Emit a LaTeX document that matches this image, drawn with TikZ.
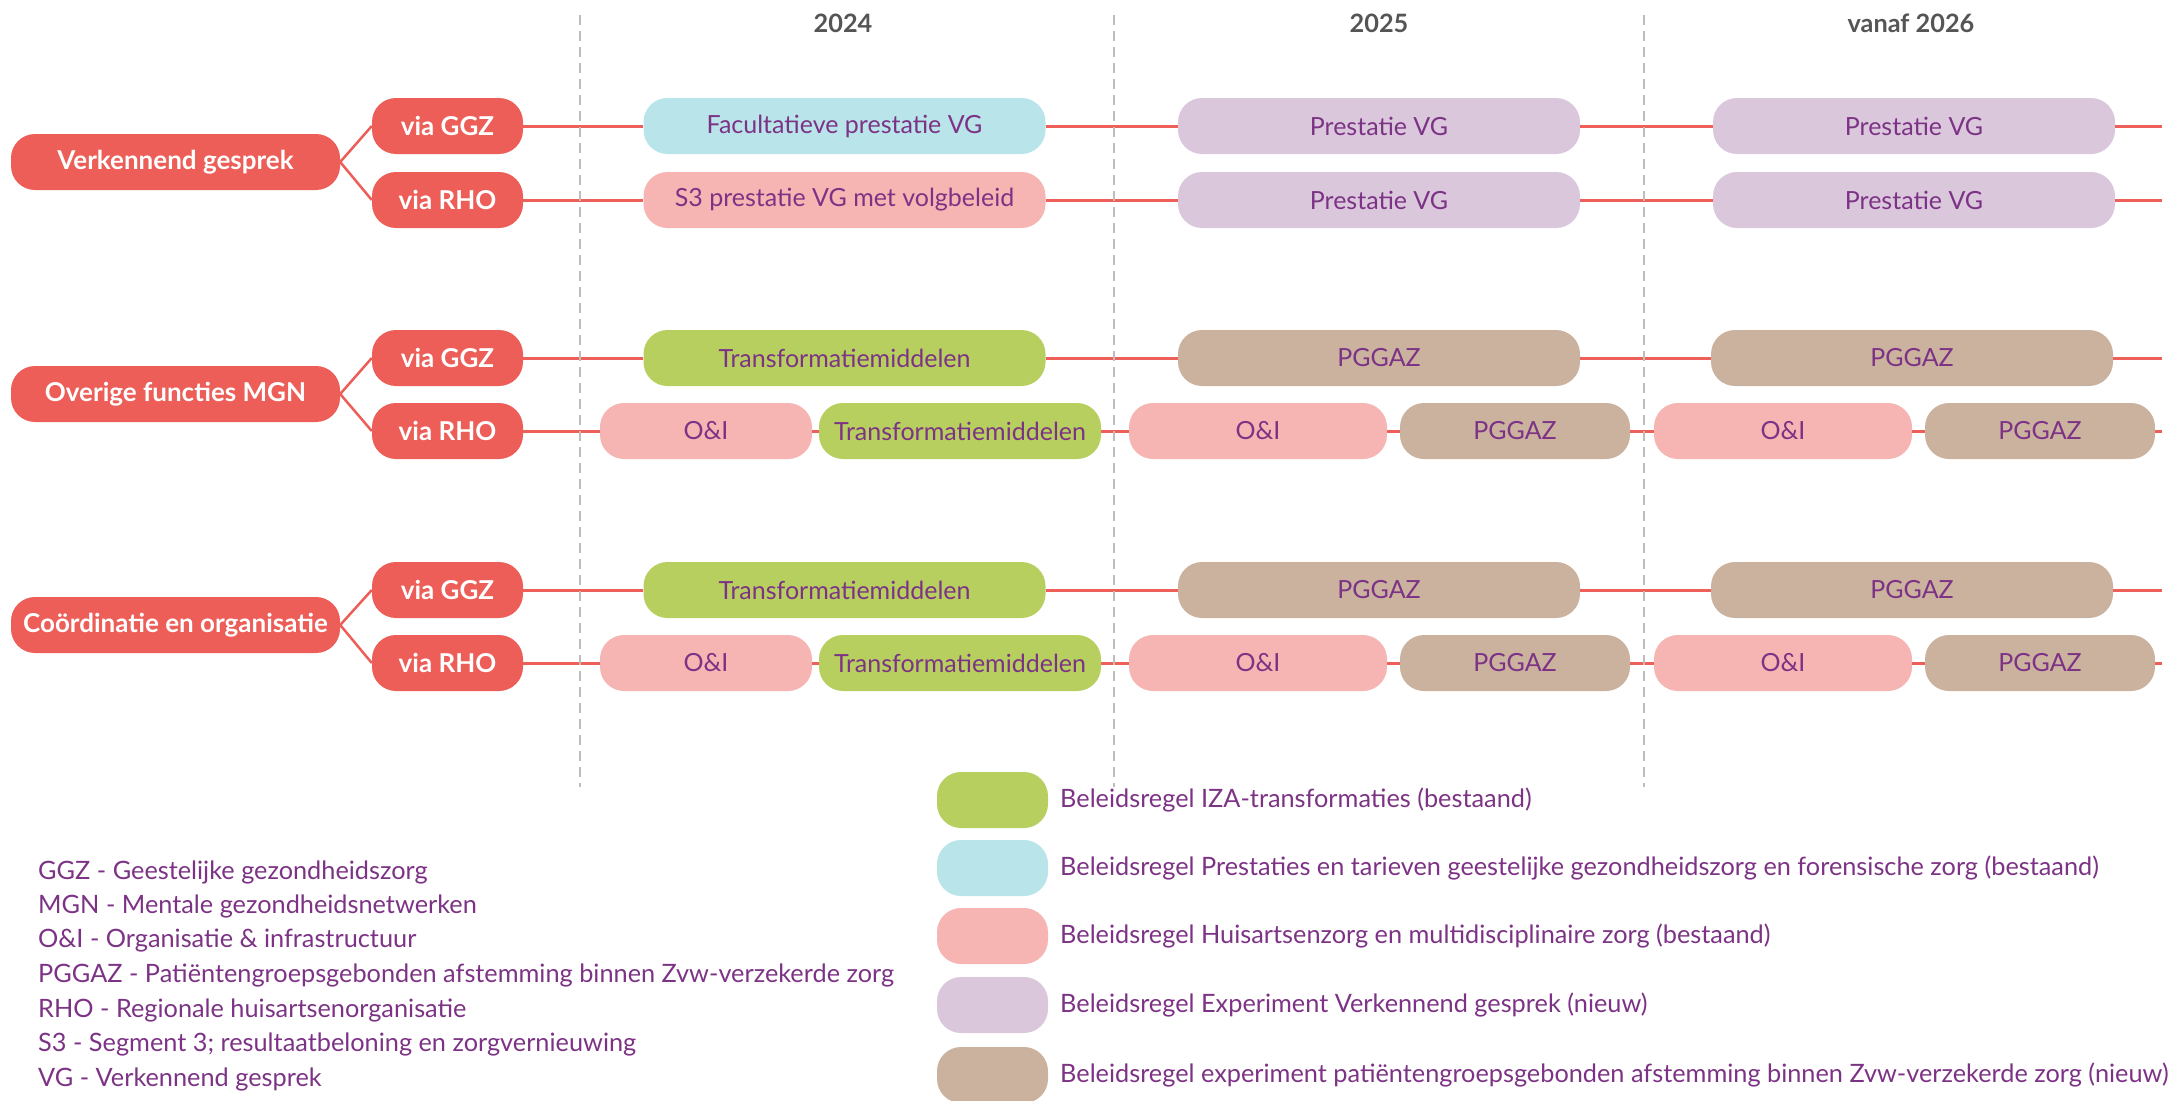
\documentclass[tikz,border=0pt]{standalone}
\usepackage{fontspec}
\setmainfont{Lato}
\definecolor{mred}{HTML}{EC5E57}
\definecolor{lred}{HTML}{EE5F5A}
\definecolor{cgreen}{HTML}{B7CF5F}
\definecolor{ccyan}{HTML}{B8E4EA}
\definecolor{cpink}{HTML}{F6B4B3}
\definecolor{clav}{HTML}{DAC7DC}
\definecolor{ctan}{HTML}{CBB29F}
\definecolor{cpurp}{HTML}{7D3385}
\definecolor{cgray}{HTML}{555555}
\definecolor{cdash}{HTML}{BDBDBD}
\newcommand{\myfs}{\fontsize{25}{29}\selectfont}
\newcommand{\myfsl}{\fontsize{25.3}{29}\selectfont}
\newcommand{\myfsb}{\fontsize{26}{30}\selectfont\bfseries}
\newcommand{\myfsy}{\fontsize{25.3}{30}\selectfont\bfseries}
\begin{document}
\begin{tikzpicture}[x=1pt,y=-1pt,
  pill/.style={rectangle,rounded corners=24pt,minimum height=56pt,inner sep=0pt,font=\myfs,text=cpurp},
  mainbox/.style={pill,fill=mred,minimum width=329pt,text=white,font=\myfsb},
  subbox/.style={pill,fill=mred,minimum width=151pt,text=white,font=\myfsb},
  wide/.style={pill,minimum width=402pt},
  oi/.style={pill,fill=cpink,minimum width=258pt},
  pg/.style={pill,fill=ctan,minimum width=230pt},
  tline/.style={draw=lred,line width=3pt},
  branch/.style={draw=mred,line width=2.5pt},
  gridline/.style={draw=cdash,line width=2pt,dash pattern=on 10pt off 6pt},
  year/.style={font=\myfsy,text=cgray},
  abbr/.style={anchor=west,font=\myfsl,text=cpurp,inner sep=0pt},
  legtext/.style={anchor=west,font=\myfsl,text=cpurp,inner sep=0pt},
  swatch/.style={rectangle,rounded corners=24pt,minimum width=111pt,minimum height=56pt,inner sep=0pt}
]
\useasboundingbox (0,0) rectangle (2175,1100);

% year labels
\node[year] (y1) at (843,23) {2024};
\node[year] (y2) at (1379,23) {2025};
\node[year] (y3) at (1911,23) {vanaf 2026};

% main and sub nodes
\node[mainbox] (vg) at (175.5,162) {Verkennend gesprek};
\node[subbox] (vgg) at (447.5,126) {via GGZ};
\node[subbox] (vgr) at (447.5,200) {via RHO};
\node[mainbox] (mgn) at (175.5,394) {Overige functies MGN};
\node[subbox] (mgng) at (447.5,358) {via GGZ};
\node[subbox] (mgnr) at (447.5,431) {via RHO};
\node[mainbox] (co) at (175.5,625) {Coördinatie en organisatie};
\node[subbox] (cog) at (447.5,590) {via GGZ};
\node[subbox] (cor) at (447.5,663) {via RHO};

\draw[branch] (vg.east) -- (vgg.west);
\draw[branch] (vg.east) -- (vgr.west);
\draw[branch] (mgn.east) -- (mgng.west);
\draw[branch] (mgn.east) -- (mgnr.west);
\draw[branch] (co.east) -- (cog.west);
\draw[branch] (co.east) -- (cor.west);

% row 1: VG via GGZ
\node[wide,fill=ccyan] (a1) at (844.5,126) {Facultatieve prestatie VG};
\node[wide,fill=clav] (a2) at (1379,126) {Prestatie VG};
\node[wide,fill=clav] (a3) at (1914,126) {Prestatie VG};
\coordinate (ae) at (2162,126);
\draw[tline] (vgg.east) -- (a1.west) (a1.east) -- (a2.west) (a2.east) -- (a3.west) (a3.east) -- (ae);

% row 2: VG via RHO
\node[wide,fill=cpink] (b1) at (844.5,200) {S3 prestatie VG met volgbeleid};
\node[wide,fill=clav] (b2) at (1379,200) {Prestatie VG};
\node[wide,fill=clav] (b3) at (1914,200) {Prestatie VG};
\coordinate (be) at (2162,200);
\draw[tline] (vgr.east) -- (b1.west) (b1.east) -- (b2.west) (b2.east) -- (b3.west) (b3.east) -- (be);

% row 3: MGN via GGZ
\node[wide,fill=cgreen] (c1) at (844.5,358) {Transformatiemiddelen};
\node[wide,fill=ctan] (c2) at (1379,358) {PGGAZ};
\node[wide,fill=ctan] (c3) at (1912,358) {PGGAZ};
\coordinate (ce) at (2162,358);
\draw[tline] (mgng.east) -- (c1.west) (c1.east) -- (c2.west) (c2.east) -- (c3.west) (c3.east) -- (ce);

% row 4: MGN via RHO
\node[oi,minimum width=212pt] (d1) at (706,431) {O\&I};
\node[pill,fill=cgreen,minimum width=282pt] (d2) at (960,431) {Transformatiemiddelen};
\node[oi] (d3) at (1258,431) {O\&I};
\node[pg] (d4) at (1515,431) {PGGAZ};
\node[oi] (d5) at (1783,431) {O\&I};
\node[pg] (d6) at (2040,431) {PGGAZ};
\coordinate (de) at (2162,431);
\draw[tline] (mgnr.east) -- (d1.west) (d1.east) -- (d2.west) (d2.east) -- (d3.west) (d3.east) -- (d4.west) (d4.east) -- (d5.west) (d5.east) -- (d6.west) (d6.east) -- (de);

% row 5: CO via GGZ
\node[wide,fill=cgreen] (e1) at (844.5,590) {Transformatiemiddelen};
\node[wide,fill=ctan] (e2) at (1379,590) {PGGAZ};
\node[wide,fill=ctan] (e3) at (1912,590) {PGGAZ};
\coordinate (ee) at (2162,590);
\draw[tline] (cog.east) -- (e1.west) (e1.east) -- (e2.west) (e2.east) -- (e3.west) (e3.east) -- (ee);

% row 6: CO via RHO
\node[oi,minimum width=212pt] (f1) at (706,663) {O\&I};
\node[pill,fill=cgreen,minimum width=282pt] (f2) at (960,663) {Transformatiemiddelen};
\node[oi] (f3) at (1258,663) {O\&I};
\node[pg] (f4) at (1515,663) {PGGAZ};
\node[oi] (f5) at (1783,663) {O\&I};
\node[pg] (f6) at (2040,663) {PGGAZ};
\coordinate (fe) at (2162,663);
\draw[tline] (cor.east) -- (f1.west) (f1.east) -- (f2.west) (f2.east) -- (f3.west) (f3.east) -- (f4.west) (f4.east) -- (f5.west) (f5.east) -- (f6.west) (f6.east) -- (fe);

% dashed year separators
\draw[gridline] (580,15) -- (580,787);
\draw[gridline] (1113.5,15) -- (1113.5,787);
\draw[gridline] (1644,15) -- (1644,787);

% abbreviations
\node[abbr] (l1) at (38,872) {GGZ - Geestelijke gezondheidszorg};
\node[abbr] (l2) at (38,906.5) {MGN - Mentale gezondheidsnetwerken};
\node[abbr] (l3) at (38,941) {O\&I - Organisatie \& infrastructuur};
\node[abbr] (l4) at (38,975.5) {PGGAZ - Patiëntengroepsgebonden afstemming binnen Zvw-verzekerde zorg};
\node[abbr] (l5) at (38,1010) {RHO - Regionale huisartsenorganisatie};
\node[abbr] (l6) at (38,1044.5) {S3 - Segment 3; resultaatbeloning en zorgvernieuwing};
\node[abbr] (l7) at (38,1079) {VG - Verkennend gesprek};

% colour legend
\node[swatch,fill=cgreen] (s1) at (992.5,800) {};
\node[swatch,fill=ccyan] (s2) at (992.5,868) {};
\node[swatch,fill=cpink] (s3) at (992.5,936) {};
\node[swatch,fill=clav] (s4) at (992.5,1005) {};
\node[swatch,fill=ctan] (s5) at (992.5,1075) {};
\node[legtext] (t1) at (1060,800) {Beleidsregel IZA-transformaties (bestaand)};
\node[legtext] (t2) at (1060,868) {Beleidsregel Prestaties en tarieven geestelijke gezondheidszorg en forensische zorg (bestaand)};
\node[legtext] (t3) at (1060,936) {Beleidsregel Huisartsenzorg en multidisciplinaire zorg (bestaand)};
\node[legtext] (t4) at (1060,1005) {Beleidsregel Experiment Verkennend gesprek (nieuw)};
\node[legtext] (t5) at (1060,1075) {Beleidsregel experiment patiëntengroepsgebonden afstemming binnen Zvw-verzekerde zorg (nieuw)};
\end{tikzpicture}
\end{document}
